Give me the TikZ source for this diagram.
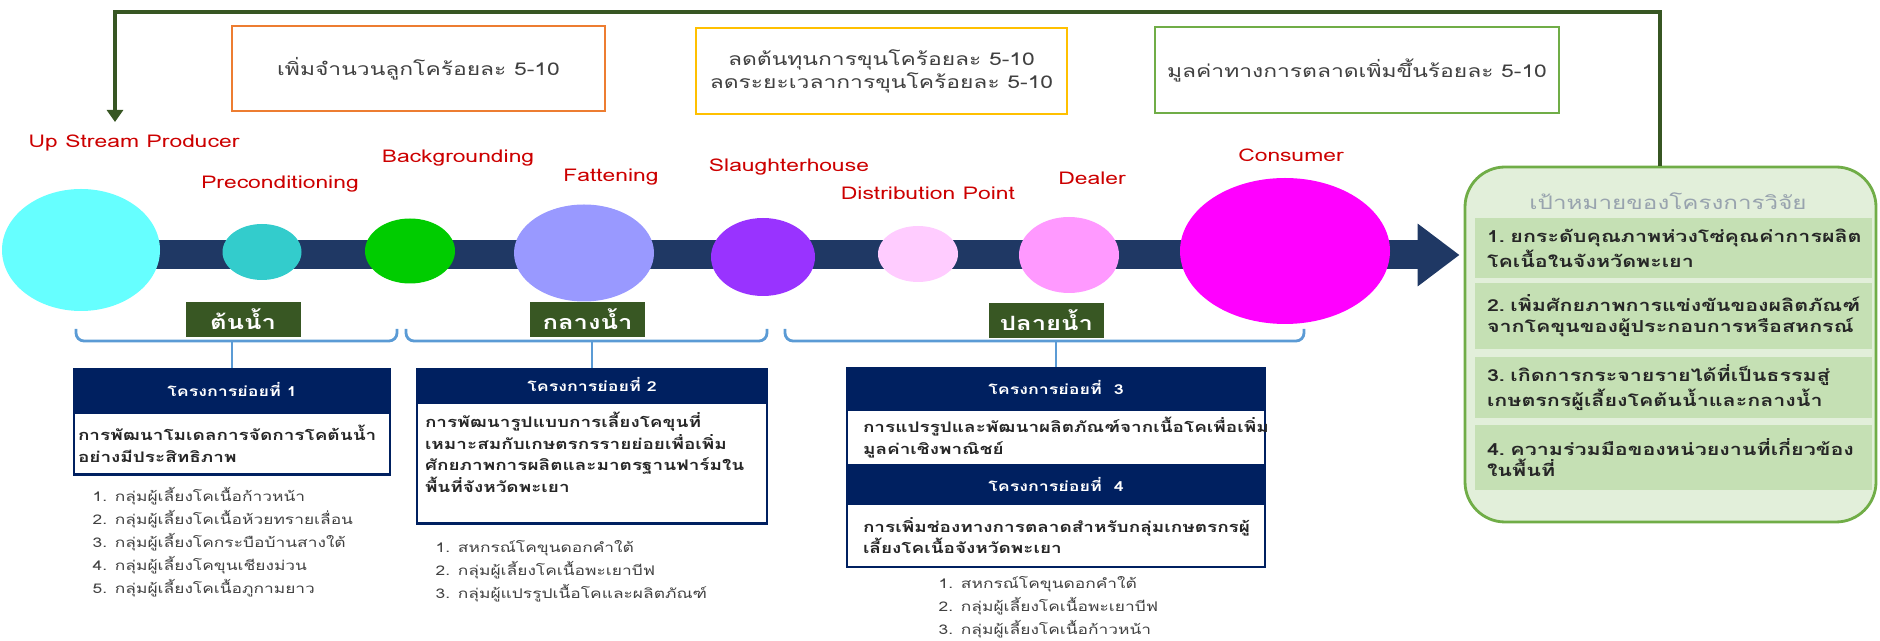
\documentclass[tikz,border=0pt]{standalone}
\usepackage{fontspec}
\setmainfont{Loma}[Script=Thai,FakeStretch=1.3]
\usepackage{tikz}
\usetikzlibrary{shapes.geometric,arrows.meta}

\definecolor{bandnavy}{HTML}{1F3864}
\definecolor{headnavy}{HTML}{002060}
\definecolor{olivebox}{HTML}{385723}
\definecolor{fbgreen}{HTML}{375623}
\definecolor{labelred}{HTML}{CC0000}
\definecolor{braceblue}{HTML}{5B9BD5}
\definecolor{boxorange}{HTML}{ED7D31}
\definecolor{boxyellow}{HTML}{FFC000}
\definecolor{boxgreen}{HTML}{70AD47}
\definecolor{goalfill}{HTML}{E2EFDA}
\definecolor{rowfill}{HTML}{C5E0B4}
\definecolor{goaltitle}{HTML}{98A3AE}
\definecolor{textgray}{HTML}{404040}
\definecolor{textdark}{HTML}{262626}
\definecolor{stagecyan}{HTML}{66FFFF}
\definecolor{stageteal}{HTML}{33CCCC}
\definecolor{stagegreen}{HTML}{00CC00}
\definecolor{stageblue}{HTML}{9999FF}
\definecolor{stagepurple}{HTML}{9933FF}
\definecolor{stagelight}{HTML}{FFCCFF}
\definecolor{stagepink}{HTML}{FF99FF}
\definecolor{stagemagenta}{HTML}{FF00FF}

\begin{document}
\begin{tikzpicture}[x=0.1mm, y=-0.1mm,
        stage/.style={ellipse, inner sep=0pt},
        stagename/.style={text=labelred, font=\fontsize{5}{6}\selectfont},
        gainbox/.style={draw, line width=0.6pt, fill=white, text=textgray, align=center, font=\fontsize{5}{6.5}\selectfont},
        zone/.style={fill=olivebox, text=white, font=\bfseries\fontsize{5.6}{7}\selectfont, minimum width=11.5mm, minimum height=3.5mm, inner sep=0pt},
        brace/.style={braceblue, line width=0.8pt, rounded corners=0.8mm},
        subhead/.style={fill=headnavy, draw=headnavy, text=white, font=\bfseries\fontsize{3.9}{5}\selectfont, inner sep=0pt, anchor=north},
        subbody/.style={draw=headnavy, line width=0.8pt, fill=white, text=textdark, font=\bfseries\fontsize{4.15}{6.2}\selectfont, align=left, anchor=north, inner ysep=0pt},
        members/.style={text=textgray, font=\fontsize{3.8}{6.5}\selectfont, align=left, anchor=north west, inner sep=0pt},
        feedback/.style={fbgreen, line width=1.3pt, -{Triangle[length=1.2mm,width=1.6mm]}},
        flow/.style={bandnavy, line width=2.9mm, -{Triangle[length=4.2mm,width=6mm]}},
        goalrow/.style={fill=rowfill, text=textdark, font=\bfseries\fontsize{4.7}{5.9}\selectfont, text width=37.3mm, align=left, inner xsep=1.2mm, inner ysep=0pt}
    ]
        \useasboundingbox (0,0) rectangle (1880,641);

        % Research goals
        \node[draw=boxgreen, line width=0.8pt, fill=goalfill, rounded corners=4mm, minimum width=41.1mm, minimum height=35.5mm] (goal) at (1670.5,344.5) {};
        \node[text=goaltitle, font=\fontsize{5.3}{6}\selectfont] (goaltitle) at (1668,201) {เป้าหมายของโครงการวิจัย};
        \node[goalrow, minimum height=6mm] (goal1) at (1673.5,248) {1.~ยกระดับคุณภาพห่วงโซ่คุณค่าการผลิต\\โคเนื้อในจังหวัดพะเยา};
        \node[goalrow, minimum height=6.6mm] (goal2) at (1673.5,316) {2.~เพิ่มศักยภาพการแข่งขันของผลิตภัณฑ์\\จากโคขุนของผู้ประกอบการหรือสหกรณ์};
        \node[goalrow, minimum height=6.1mm] (goal3) at (1673.5,387.5) {3.~เกิดการกระจายรายได้ที่เป็นธรรมสู่\\เกษตรกรผู้เลี้ยงโคต้นน้ำและกลางน้ำ};
        \node[goalrow, minimum height=6.5mm] (goal4) at (1673.5,457.5) {4.~ความร่วมมือของหน่วยงานที่เกี่ยวข้อง\\ในพื้นที่};

        % Value chain band
        \coordinate (flowstart) at (81,255);
        \draw[flow, shorten >=0.4mm] (flowstart) -- (flowstart -| goal.west);

        % Stages
        \node[stage, fill=stagecyan, minimum width=15.8mm, minimum height=12.2mm] (usp) at (81,250) {};
        \node[stage, fill=stageteal, minimum width=7.9mm, minimum height=5.6mm] (pre) at (262,252) {};
        \node[stage, fill=stagegreen, minimum width=9mm, minimum height=6.5mm] (bkg) at (410,251) {};
        \node[stage, fill=stageblue, minimum width=14mm, minimum height=9.7mm] (fat) at (584,253) {};
        \node[stage, fill=stagepurple, minimum width=10.4mm, minimum height=7.8mm] (slh) at (763,257) {};
        \node[stage, fill=stagelight, minimum width=8mm, minimum height=5.6mm] (dis) at (918,254) {};
        \node[stage, fill=stagepink, minimum width=10mm, minimum height=7.6mm] (dlr) at (1069,255) {};
        \node[stage, fill=stagemagenta, minimum width=21mm, minimum height=14.6mm] (con) at (1285,251) {};

        % Stage names
        \node[stagename] (usplabel) at (134,143) {Up Stream Producer};
        \node[stagename] (prelabel) at (280,184) {Preconditioning};
        \node[stagename] (bkglabel) at (458,158) {Backgrounding};
        \node[stagename] (fatlabel) at (611,177) {Fattening};
        \node[stagename] (slhlabel) at (789,167) {Slaughterhouse};
        \node[stagename] (dislabel) at (928,193) {Distribution Point};
        \node[stagename] (dlrlabel) at (1092,178) {Dealer};
        \node[stagename] (conlabel) at (1291,155) {Consumer};

        % Feedback loop
        \coordinate (fbcorner) at (115,12);
        \coordinate (fbtip) at (115,122);
        \draw[feedback] ([xshift=-1.05mm]goal.north) |- (fbcorner) -- (fbtip);

        % Expected gains
        \node[gainbox, draw=boxorange, minimum width=37.3mm, minimum height=8.5mm] (gain1) at (418.5,68.5) {เพิ่มจำนวนลูกโคร้อยละ 5-10};
        \node[gainbox, draw=boxyellow, minimum width=37.1mm, minimum height=8.6mm] (gain2) at (881.5,71) {ลดต้นทุนการขุนโคร้อยละ 5-10\\ลดระยะเวลาการขุนโคร้อยละ 5-10};
        \node[gainbox, draw=boxgreen, minimum width=40mm, minimum height=8.6mm] (gain3) at (1357,70) {มูลค่าทางการตลาดเพิ่มขึ้นร้อยละ 5-10};

        % Zones
        \node[zone] (upzone) at (243,319.5) {ต้นน้ำ};
        \node[zone] (midzone) at (587.5,319.5) {กลางน้ำ};
        \node[zone] (downzone) at (1046.5,320.5) {ปลายน้ำ};

        % Sub-projects
        \node[subhead, minimum width=31.6mm, minimum height=4.2mm] (head1) at (232,368) {โครงการย่อยที่ 1};
        \node[subbody, text width=30.8mm, inner xsep=0.4mm, minimum height=6.2mm] (body1) at (head1.south) {การพัฒนาโมเดลการจัดการโคต้นน้ำ\\อย่างมีประสิทธิภาพ};
        \node[subhead, minimum width=35mm, minimum height=3.2mm] (head2) at (592,368) {โครงการย่อยที่ 2};
        \node[subbody, text width=33.4mm, inner xsep=0.8mm, inner ysep=0.9mm] (body2) at (head2.south) {การพัฒนารูปแบบการเลี้ยงโคขุนที่\\เหมาะสมกับเกษตรกรรายย่อยเพื่อเพิ่ม\\ศักยภาพการผลิตและมาตรฐานฟาร์มใน\\พื้นที่จังหวัดพะเยา\\\mbox{}};
        \node[subhead, minimum width=41.8mm, minimum height=4mm] (head3) at (1056,367) {โครงการย่อยที่~~3};
        \node[subbody, text width=38.6mm, inner xsep=1.6mm, minimum height=5.6mm] (body3) at (head3.south) {การแปรรูปและพัฒนาผลิตภัณฑ์จากเนื้อโคเพื่อเพิ่ม\\มูลค่าเชิงพาณิชย์};
        \node[subhead, minimum width=41.8mm, minimum height=3.4mm] (head4) at (body3.south) {โครงการย่อยที่~~4};
        \node[subbody, text width=38.6mm, inner xsep=1.6mm, minimum height=6.3mm] (body4) at (head4.south) {การเพิ่มช่องทางการตลาดสำหรับกลุ่มเกษตรกรผู้\\เลี้ยงโคเนื้อจังหวัดพะเยา};

        % Braces
        \draw[brace] (76,329) -- (76,341) -- (397,341) -- (397,329);
        \draw[brace] (head1.north |- 0,341) -- (head1.north);
        \draw[brace] (406,329) -- (406,341) -- (767,341) -- (767,329);
        \draw[brace] (head2.north |- 0,341) -- (head2.north);
        \draw[brace] (785,329) -- (785,341) -- (1304,341) -- (1304,329);
        \draw[brace] (head3.north |- 0,341) -- (head3.north);

        % Member groups
        \node[members] (list1) at (92,487) {1. กลุ่มผู้เลี้ยงโคเนื้อก้าวหน้า\\2. กลุ่มผู้เลี้ยงโคเนื้อห้วยทรายเลื่อน\\3. กลุ่มผู้เลี้ยงโคกระบือบ้านสางใต้\\4. กลุ่มผู้เลี้ยงโคขุนเชียงม่วน\\5. กลุ่มผู้เลี้ยงโคเนื้อภูกามยาว};
        \node[members] (list2) at (435,540) {1. สหกรณ์โคขุนดอกคำใต้\\2. กลุ่มผู้เลี้ยงโคเนื้อพะเยาบีฟ\\3. กลุ่มผู้แปรรูปเนื้อโคและผลิตภัณฑ์};
        \node[members] (list3) at (938,576) {1. สหกรณ์โคขุนดอกคำใต้\\2. กลุ่มผู้เลี้ยงโคเนื้อพะเยาบีฟ\\3. กลุ่มผู้เลี้ยงโคเนื้อก้าวหน้า};
\end{tikzpicture}
\end{document}
